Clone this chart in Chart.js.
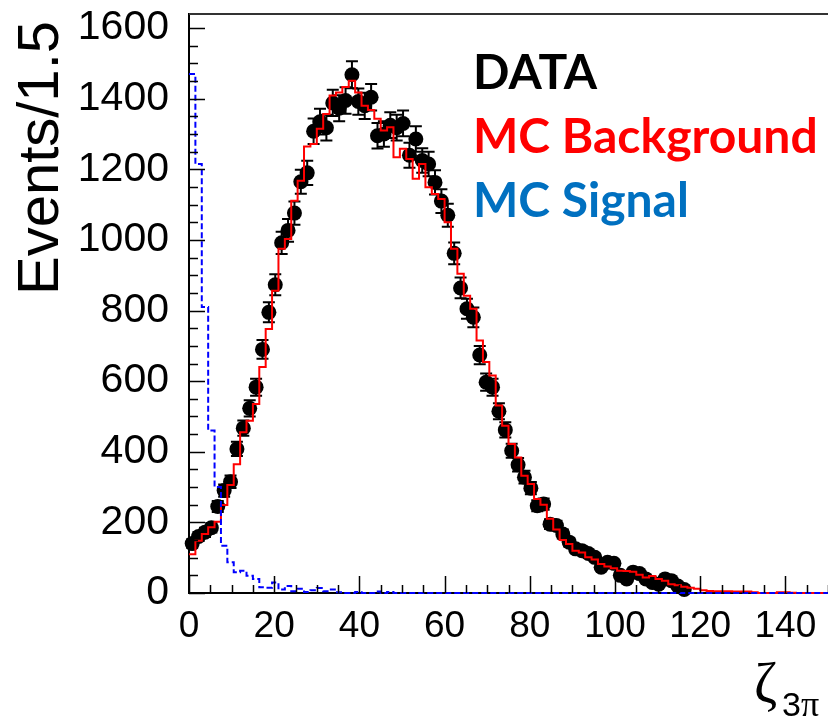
<!DOCTYPE html>
<html>
<head>
<meta charset="utf-8">
<script src="https://cdn.jsdelivr.net/npm/chart.js@4.4.1/dist/chart.umd.min.js"></script>
<style>
  html, body { margin: 0; padding: 0; background: #fff; }
  #wrap { width: 828px; height: 725px; position: relative; }
</style>
</head>
<body>
<div id="wrap"><canvas id="c"></canvas></div>
<script>
// histogram binning, events per 1.5
var binWidth = 1.5;

// DATA points (bins from 0, width 1.5)
var dataCounts = [
  140, 160, 172, 185, 245, 290, 315, 408, 467, 523,
  583, 690, 795, 873, 992, 1027, 1076, 1165, 1190, 1308,
  1335, 1318, 1388, 1373, 1395, 1468, 1392, 1380, 1404, 1295,
  1300, 1325, 1318, 1330, 1240, 1286, 1225, 1215, 1163, 1110,
  1070, 962, 864, 805, 781, 674, 597, 583, 515, 462,
  403, 363, 328, 297, 247, 252, 195, 191, 167, 144,
  125, 120, 112, 101, 73, 87, 84, 50, 40, 59,
  55, 40, 30, 25, 40, 35, 20, 10
];

// MC background histogram
var bkgCounts = [
  110, 148, 167, 186, 202, 249, 306, 365, 455, 488,
  535, 640, 748, 856, 975, 1003, 1111, 1168, 1265, 1272,
  1315, 1357, 1409, 1418, 1433, 1451, 1418, 1380, 1368, 1343,
  1310, 1319, 1234, 1258, 1229, 1173, 1215, 1149, 1130, 1116,
  1050, 975, 904, 842, 805, 715, 654, 616, 531, 474,
  422, 384, 332, 309, 266, 250, 210, 180, 150, 139,
  120, 115, 101, 95, 82, 75, 70, 63, 62, 60,
  52, 44, 48, 40, 35, 25, 22, 18, 15, 12,
  8, 6, 5, 5, 5, 4, 4, 4, 2, 0,
  0, 0, 2, 2, 1, 0, 0, 0, 0, 0
];

// MC signal histogram
var sigCounts = [
  1470, 1215, 810, 460, 300, 134, 87, 59, 63, 49,
  40, 16, 15, 30, 10, 20, 5, 12, 3, 8,
  14, 5, 10, 2, 0, 0, 3, 0, 0, 4,
  0, 3, 0, 0, 0, 0, 0, 0, 0, 0,
  0, 0, 0, 0, 0, 0, 0, 0, 0, 0,
  0, 0, 0, 0, 0, 0, 0, 0, 0, 0,
  0, 0, 0, 0, 0, 0, 0, 0, 0, 0,
  0, 0, 0, 0, 0, 0, 0, 0, 0, 0,
  0, 0, 0, 0, 0, 0, 0, 0, 0, 0,
  0, 0, 0, 0, 0, 0, 0, 0, 0, 0
];

var xTicks = [0, 20, 40, 60, 80, 100, 120, 140];
var yTicks = [0, 200, 400, 600, 800, 1000, 1200, 1400, 1600];

var legendLines = [
  { text: 'DATA', color: '#000000' },
  { text: 'MC Background', color: '#ff0000' },
  { text: 'MC Signal', color: '#0070c0' }
];

function histPoints(counts) {
  var pts = counts.map(function(c, i) { return { x: i * binWidth, y: c }; });
  pts.push({ x: counts.length * binWidth, y: counts[counts.length - 1] });
  return pts;
}

function pointData(counts) {
  return counts.map(function(c, i) { return { x: (i + 0.5) * binWidth, y: c }; });
}

// keep the plot frame exactly where the axis boxes put it
function noPadding(scale) {
  scale.paddingTop = 0;
  scale.paddingBottom = 0;
  scale.paddingLeft = 0;
  scale.paddingRight = 0;
}

// vertical sqrt(N) error bars with small caps, under the markers
var errorBars = {
  id: 'errorBars',
  beforeDatasetsDraw: function(chart) {
    var ctx = chart.ctx, xs = chart.scales.x, ys = chart.scales.y;
    ctx.save();
    ctx.strokeStyle = '#000';
    ctx.lineWidth = 2;
    dataCounts.forEach(function(c, i) {
      var px = xs.getPixelForValue((i + 0.5) * binWidth);
      var e = Math.sqrt(c);
      var top = ys.getPixelForValue(c + e), bot = ys.getPixelForValue(c - e);
      ctx.beginPath();
      ctx.moveTo(px, top); ctx.lineTo(px, bot);
      ctx.moveTo(px - 6, top); ctx.lineTo(px + 6, top);
      ctx.moveTo(px - 6, bot); ctx.lineTo(px + 6, bot);
      ctx.stroke();
    });
    ctx.restore();
  }
};

// ROOT style frame: inner ticks, top line, axis titles and text legend
var frameDecor = {
  id: 'frameDecor',
  afterDatasetsDraw: function(chart) {
    var ctx = chart.ctx, a = chart.chartArea;
    var xs = chart.scales.x, ys = chart.scales.y;
    ctx.save();
    ctx.strokeStyle = '#000';
    ctx.lineWidth = 1.5;
    ctx.beginPath();
    for (var v = 0; v <= ys.max; v += 50) {
      var py = Math.round(ys.getPixelForValue(v)) + 0.5;
      ctx.moveTo(a.left, py);
      ctx.lineTo(a.left + (v % 200 === 0 ? 16 : 9), py);
    }
    for (var u = 0; u <= xs.max; u += 5) {
      var px = Math.round(xs.getPixelForValue(u)) + 0.5;
      ctx.moveTo(px, a.bottom);
      ctx.lineTo(px, a.bottom - (u % 20 === 0 ? 17 : 8));
    }
    ctx.stroke();

    ctx.strokeStyle = '#333';
    ctx.lineWidth = 2;
    ctx.beginPath();
    ctx.moveTo(a.left, a.top);
    ctx.lineTo(a.right, a.top);
    ctx.stroke();

    // y title
    ctx.fillStyle = '#000';
    ctx.save();
    ctx.translate(58, 21);
    ctx.rotate(-Math.PI / 2);
    ctx.font = '58px "Liberation Sans", Arial, sans-serif';
    ctx.textAlign = 'right';
    ctx.textBaseline = 'alphabetic';
    ctx.fillText('Events/1.5', 0, 0);
    ctx.restore();

    // x title: zeta with 3pi subscript
    ctx.textAlign = 'left';
    ctx.textBaseline = 'alphabetic';
    ctx.font = '56px "Liberation Serif", serif';
    ctx.fillText('\u03b6', 754, 702);
    ctx.font = '34px "Liberation Sans", Arial, sans-serif';
    ctx.fillText('3', 782, 716);
    ctx.font = '36px "Liberation Serif", serif';
    ctx.fillText('\u03c0', 801, 716);

    // legend text, sized so the longest line spans the same width
    ctx.font = 'bold 100px Lato, "Open Sans", sans-serif';
    var w = ctx.measureText(legendLines[1].text).width;
    var size = 100 * 345 / w;
    ctx.font = 'bold ' + size.toFixed(1) + 'px Lato, "Open Sans", sans-serif';
    var baselines = [89, 153, 217];
    legendLines.forEach(function(l, i) {
      ctx.fillStyle = l.color;
      ctx.fillText(l.text, 473, baselines[i]);
    });
    ctx.restore();
  }
};

new Chart(document.getElementById('c'), {
  type: 'scatter',
  data: {
    datasets: [
      {
        label: 'MC Signal',
        type: 'line',
        data: histPoints(sigCounts),
        stepped: true,
        borderColor: '#0000ff',
        borderWidth: 2,
        borderDash: [6, 3],
        pointRadius: 0,
        fill: false,
        clip: 4,
        order: 1
      },
      {
        label: 'MC Background',
        type: 'line',
        data: histPoints(bkgCounts),
        stepped: true,
        borderColor: '#ff0000',
        borderWidth: 2,
        pointRadius: 0,
        fill: false,
        clip: 4,
        order: 2
      },
      {
        label: 'DATA',
        data: pointData(dataCounts),
        showLine: false,
        pointRadius: 7.5,
        pointBackgroundColor: '#000',
        pointBorderWidth: 0,
        clip: 10,
        order: 3
      }
    ]
  },
  options: {
    responsive: true,
    maintainAspectRatio: false,
    animation: false,
    layout: { autoPadding: false, padding: { top: 14, right: 0, left: 0, bottom: 0 } },
    plugins: {
      legend: { display: false },
      tooltip: { enabled: false }
    },
    scales: {
      x: {
        type: 'linear',
        min: 0,
        max: 150,
        grid: { display: false, drawTicks: false },
        border: { display: true, color: '#000', width: 2 },
        ticks: {
          color: '#000',
          font: { family: '"Liberation Sans", Arial, sans-serif', size: 37 },
          padding: 12,
          maxRotation: 0,
          autoSkip: false,
          callback: function(v) { return String(v); }
        },
        afterBuildTicks: function(scale) {
          scale.ticks = xTicks.map(function(v) { return { value: v }; });
        },
        afterFit: function(scale) { scale.height = 132; noPadding(scale); }
      },
      y: {
        type: 'linear',
        min: 0,
        max: 1640,
        grid: { display: false, drawTicks: false },
        border: { display: true, color: '#000', width: 2 },
        ticks: {
          color: '#000',
          font: { family: '"Liberation Sans", Arial, sans-serif', size: 41 },
          padding: 20,
          autoSkip: false,
          callback: function(v) { return String(v); }
        },
        afterBuildTicks: function(scale) {
          scale.ticks = yTicks.map(function(v) { return { value: v }; });
        },
        afterFit: function(scale) { scale.width = 189; noPadding(scale); }
      }
    }
  },
  plugins: [errorBars, frameDecor]
});
</script>
</body>
</html>
